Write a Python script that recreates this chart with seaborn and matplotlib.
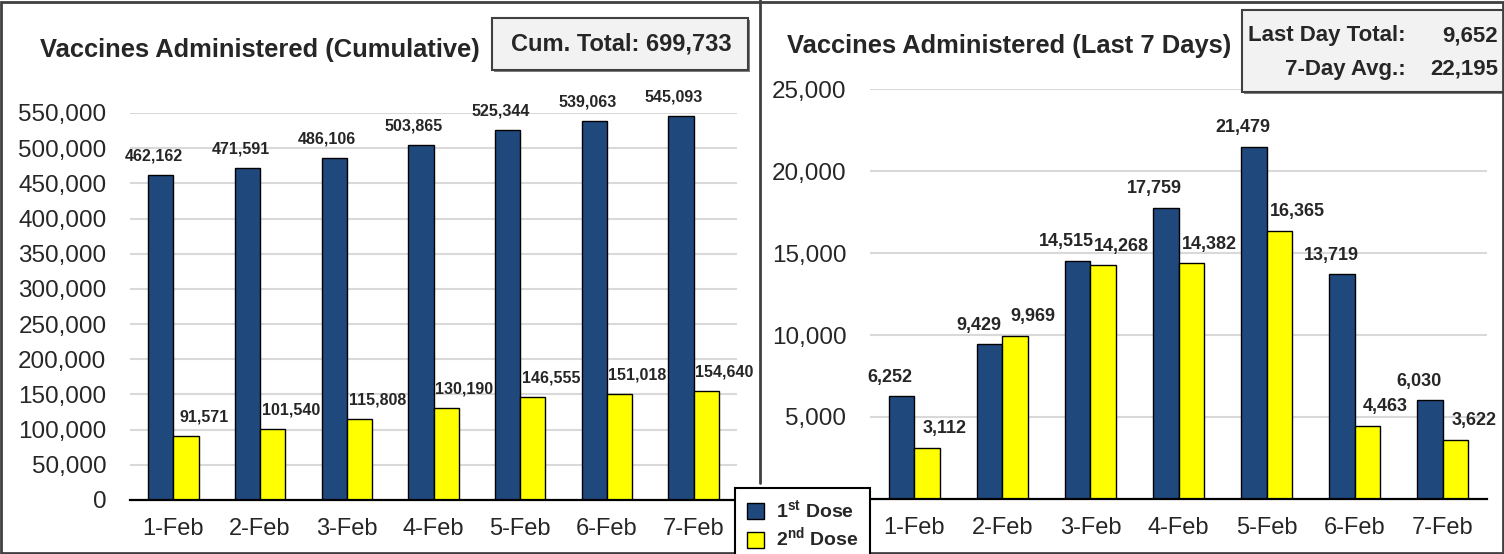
import matplotlib
matplotlib.use('Agg')
from matplotlib import pyplot as plt
from matplotlib import font_manager
from matplotlib.patches import Rectangle, Patch
from matplotlib.lines import Line2D
from matplotlib.ticker import FuncFormatter
import pandas as pd
import seaborn as sns

days = ['1-Feb', '2-Feb', '3-Feb', '4-Feb', '5-Feb', '6-Feb', '7-Feb']
cum_first = [462162, 471591, 486106, 503865, 525344, 539063, 545093]
cum_second = [91571, 101540, 115808, 130190, 146555, 151018, 154640]
daily_first = [6252, 9429, 14515, 17759, 21479, 13719, 6030]
daily_second = [3112, 9969, 14268, 14382, 16365, 4463, 3622]
doses = ['1st Dose', '2nd Dose']
legend_labels = [r'1$^{\mathbf{st}}$ Dose', r'2$^{\mathbf{nd}}$ Dose']
cum_total = 699733
last_day_total = 9652
seven_day_avg = 22195

blue = '#1F497D'
yellow = '#FFFF00'
W, H = 1504, 554

sns.set_style('white')
plt.rcParams['font.family'] = ['Liberation Sans', 'DejaVu Sans']
plt.rcParams['mathtext.fontset'] = 'custom'
plt.rcParams['mathtext.rm'] = 'Liberation Sans'
plt.rcParams['mathtext.bf'] = 'Liberation Sans:bold'

names = {f.name for f in font_manager.fontManager.ttflist}
narrow = 'Liberation Sans Narrow' if 'Liberation Sans Narrow' in names else 'Liberation Sans'


def long_df(first, second):
    return pd.DataFrame({
        'Day': days * 2,
        'Count': first + second,
        'Dose': [doses[0]] * len(days) + [doses[1]] * len(days),
    })


def px_rect(x0, y0, x1, y1):
    # pixel box (top-left origin) -> figure fraction
    return [x0 / W, 1 - y1 / H, (x1 - x0) / W, (y1 - y0) / H]


fig = plt.figure(figsize=(W / 100, H / 100), dpi=100)
fig.patch.set_facecolor('white')

ax1 = fig.add_axes(px_rect(130, 113, 737, 500))
ax2 = fig.add_axes(px_rect(870, 89, 1487, 499))

panels = [
    (ax1, long_df(cum_first, cum_second), cum_first, cum_second, 550000,
     range(0, 550001, 50000), narrow, 11.5, -7),
    (ax2, long_df(daily_first, daily_second), daily_first, daily_second, 25000,
     range(5000, 25001, 5000), 'Liberation Sans', 13, -11),
]

for ax, df, first, second, top, ticks, lab_font, lab_size, dark_dx in panels:
    sns.barplot(data=df, x='Day', y='Count', hue='Dose', palette=[blue, yellow],
                width=0.58, saturation=1, edgecolor='black', linewidth=1,
                legend=False, ax=ax)
    ax.set_ylim(0, top)
    ax.set_xlim(-0.5, 6.5)
    ax.set_yticks(list(ticks))
    ax.yaxis.set_major_formatter(FuncFormatter(lambda v, p: f'{int(v):,}'))
    ax.yaxis.grid(True, color='#D9D9D9', lw=1.5)
    ax.set_axisbelow(True)
    for s in ['left', 'right', 'top']:
        ax.spines[s].set_visible(False)
    ax.spines['bottom'].set_color('black')
    ax.spines['bottom'].set_linewidth(1.6)
    ax.tick_params(axis='y', length=0, pad=17, labelsize=17.5)
    ax.tick_params(axis='x', length=0, pad=13, labelsize=17)
    ax.set_xlabel('')
    ax.set_ylabel('')

    for container, values, dx in zip(ax.containers, [first, second], [dark_dx, 18]):
        for bar, v in zip(container, values):
            ax.annotate(f'{v:,}', (bar.get_x() + bar.get_width() / 2, bar.get_height()),
                        xytext=(dx, 19), textcoords='offset pixels',
                        ha='center', va='center', fontweight='bold',
                        fontsize=lab_size, family=lab_font, annotation_clip=False)

# titles
fig.text(40 / W, 1 - 50 / H, 'Vaccines Administered (Cumulative)',
         fontsize=18.4, fontweight='bold', va='center', ha='left')
fig.text(787 / W, 1 - 46 / H, 'Vaccines Administered (Last 7 Days)',
         fontsize=18.4, fontweight='bold', va='center', ha='left')

# summary boxes
def summary_box(x0, y0, x1, y1):
    x, y, w, h = px_rect(x0, y0, x1, y1)
    fig.add_artist(Rectangle((x + 2 / W, y - 2 / H), w, h, transform=fig.transFigure,
                             facecolor='#7F7F7F', edgecolor='none'))
    fig.add_artist(Rectangle((x, y), w, h, transform=fig.transFigure,
                             facecolor='#F2F2F2', edgecolor='#404040', lw=1.5))

summary_box(492, 18, 748, 70)
fig.text(621 / W, 1 - 44 / H, f'Cum. Total: {cum_total:,}',
         fontsize=17, fontweight='bold', ha='center', va='center')

summary_box(1242, 10, 1515, 92)
fig.text(1406 / W, 1 - 36 / H, 'Last Day Total:', fontsize=16, fontweight='bold', ha='right', va='center')
fig.text(1498 / W, 1 - 36 / H, f'{last_day_total:,}', fontsize=16, fontweight='bold', ha='right', va='center')
fig.text(1406 / W, 1 - 69 / H, '7-Day Avg.:', fontsize=16, fontweight='bold', ha='right', va='center')
fig.text(1498 / W, 1 - 69 / H, f'{seven_day_avg:,}', fontsize=16, fontweight='bold', ha='right', va='center')

# panel borders
fig.add_artist(Rectangle((1.5 / W, 1.5 / H), 1 - 3 / W, 1 - 3 / H, transform=fig.transFigure,
                         fill=False, edgecolor='#404040', lw=2))
fig.add_artist(Line2D([760 / W, 760 / W], [1 - 483 / H, 1], transform=fig.transFigure,
                      color='#404040', lw=2))

# legend
handles = [Patch(facecolor=c, edgecolor='black', lw=1) for c in [blue, yellow]]
leg = fig.legend(handles, legend_labels, loc='lower left',
                 bbox_to_anchor=(735 / W, -8 / H), borderaxespad=0,
                 frameon=True, fancybox=False,
                 edgecolor='black', framealpha=1, prop={'weight': 'bold', 'size': 14},
                 handlelength=0.9, handleheight=0.9, handletextpad=0.6,
                 labelspacing=0.2, borderpad=0.6)
leg.get_frame().set_linewidth(1.5)

fig.savefig('out.png', dpi=100, facecolor='white')
